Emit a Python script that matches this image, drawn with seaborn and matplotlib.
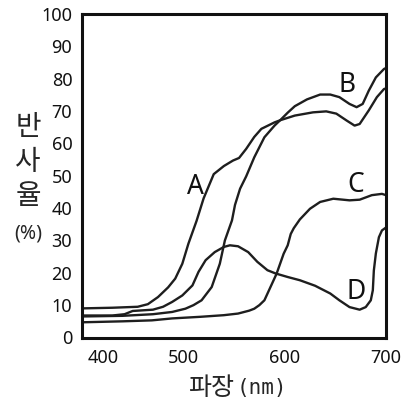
import numpy as np
import pandas as pd
import seaborn as sns
import matplotlib
matplotlib.use("Agg")
import matplotlib.pyplot as plt
import matplotlib.transforms as mtransforms

# ── data (wavelength nm, reflectance %) ──────────────────────────────────────
a_wl = [400, 430, 455, 465, 475, 485, 492, 499, 505, 513, 520, 530, 540, 549, 555,
        562, 570, 577, 590, 596, 610, 628, 641, 651, 661, 669, 674, 683, 691, 698, 700]
a_rf = [9.0, 9.2, 9.5, 10.3, 12.5, 15.5, 18.2, 22.8, 29.0, 36.0, 43.0, 50.5, 53.0, 54.7, 55.5,
        58.3, 62.0, 64.5, 66.5, 67.2, 68.6, 69.6, 69.9, 69.2, 67.1, 65.5, 66.0, 70.2, 74.3, 76.8, 77.0]

b_wl = [400, 440, 470, 489, 502, 510, 518, 528, 536, 541, 548, 551, 556, 562, 570,
        580, 590, 596, 603, 610, 622, 635, 645, 654, 664, 671, 677, 683, 690, 698, 700]
b_rf = [6.5, 6.7, 7.2, 7.9, 8.9, 10.0, 11.5, 15.6, 22.8, 30.0, 36.2, 41.0, 46.0, 49.8, 55.7,
        61.9, 65.5, 67.3, 69.5, 71.5, 73.6, 75.1, 75.1, 74.3, 72.2, 71.2, 72.2, 76.3, 80.4, 83.0, 83.3]

c_wl = [400, 440, 469, 489, 517, 540, 554, 565, 570, 575, 580, 586, 592, 599, 603,
        606, 609, 615, 625, 635, 648, 664, 674, 686, 696, 700]
c_rf = [4.7, 5.0, 5.3, 5.9, 6.4, 6.9, 7.4, 8.3, 8.9, 10.0, 11.5, 15.6, 19.7, 25.9, 28.5,
        32.0, 33.8, 36.5, 39.8, 41.9, 42.9, 42.4, 42.6, 44.0, 44.4, 44.0]

d_wl = [400, 430, 442, 450, 470, 480, 489, 499, 509, 515, 522, 531, 540, 546, 554,
        564, 573, 583, 591, 603, 615, 630, 645, 654, 664, 674, 680, 685, 687, 688, 690,
        693, 696, 700]
d_rf = [6.8, 6.8, 7.2, 8.2, 8.6, 9.5, 11.0, 13.0, 16.1, 20.3, 23.9, 26.4, 28.0, 28.5, 28.2,
        26.4, 23.4, 20.8, 19.8, 18.7, 17.7, 16.0, 13.6, 11.5, 9.4, 8.6, 9.4, 11.5, 14.6, 20.7, 26.0,
        31.0, 33.1, 34.0]

curve_names = ["A", "B", "C", "D"]
label_wl = [512, 662, 670, 671]
label_rf = [46.5, 78.0, 47.0, 14.0]

x_ticks = [400, 500, 600, 700]
y_ticks = list(range(0, 101, 10))

df = pd.concat([
    pd.DataFrame({"wl": a_wl, "rf": a_rf, "curve": "A"}),
    pd.DataFrame({"wl": b_wl, "rf": b_rf, "curve": "B"}),
    pd.DataFrame({"wl": c_wl, "rf": c_rf, "curve": "C"}),
    pd.DataFrame({"wl": d_wl, "rf": d_rf, "curve": "D"}),
], ignore_index=True)

# ── plot ─────────────────────────────────────────────────────────────────────
sns.set_style("white")
plt.rcParams['font.family'] = ['Noto Sans', 'Noto Sans CJK KR', 'DejaVu Sans']

W, H = 405, 408
fig = plt.figure(figsize=(W / 100, H / 100), dpi=100)
ax = fig.add_axes([82 / W, 1 - 337.5 / H, (386 - 82) / W, (337.5 - 14) / H])

sns.lineplot(data=df, x="wl", y="rf", hue="curve", palette=["#1e1e1e"] * 4,
             estimator=None, sort=False, linewidth=1.7, legend=False, ax=ax)

for name, lx, ly in zip(curve_names, label_wl, label_rf):
    ax.text(lx, ly, name, fontsize=19, ha="center", va="center", color="#111111")

ax.set_xlim(400, 700)
ax.set_ylim(0, 100)
ax.set_xticks(x_ticks)
ax.set_yticks(y_ticks)
ax.set_xticklabels([str(t) for t in x_ticks])
ax.set_yticklabels([str(t) for t in y_ticks])
ax.tick_params(direction="in", length=8, width=2.2, labelsize=13, colors="#111111",
               pad=7)
ax.tick_params(axis="x", pad=8)

# shift the "400" label away from the "0"
shift = mtransforms.ScaledTranslation(0.21, 0, fig.dpi_scale_trans)
lbl = ax.get_xticklabels()[0]
lbl.set_transform(lbl.get_transform() + shift)

for sp in ax.spines.values():
    sp.set_linewidth(2.2)
    sp.set_color("#111111")

ax.set_xlabel("")
ax.set_ylabel("")

# stacked y label and x label
kr = ['Noto Sans CJK KR']
for ch, yp in zip(["반", "사", "율"], [127, 162, 196]):
    fig.text(28 / W, 1 - yp / H, ch, fontsize=20, ha="center", va="center", family=kr)
fig.text(28 / W, 1 - 233 / H, "(%)", fontsize=14, ha="center", va="center")
fig.text(211 / W, 1 - 388 / H, "파장", fontsize=18, ha="center", va="center", family=kr)
fig.text(262 / W, 1 - 388 / H, "(nm)", fontsize=15, ha="center", va="center",
         family=["DejaVu Sans Mono"])

fig.savefig("out.png", dpi=100)
